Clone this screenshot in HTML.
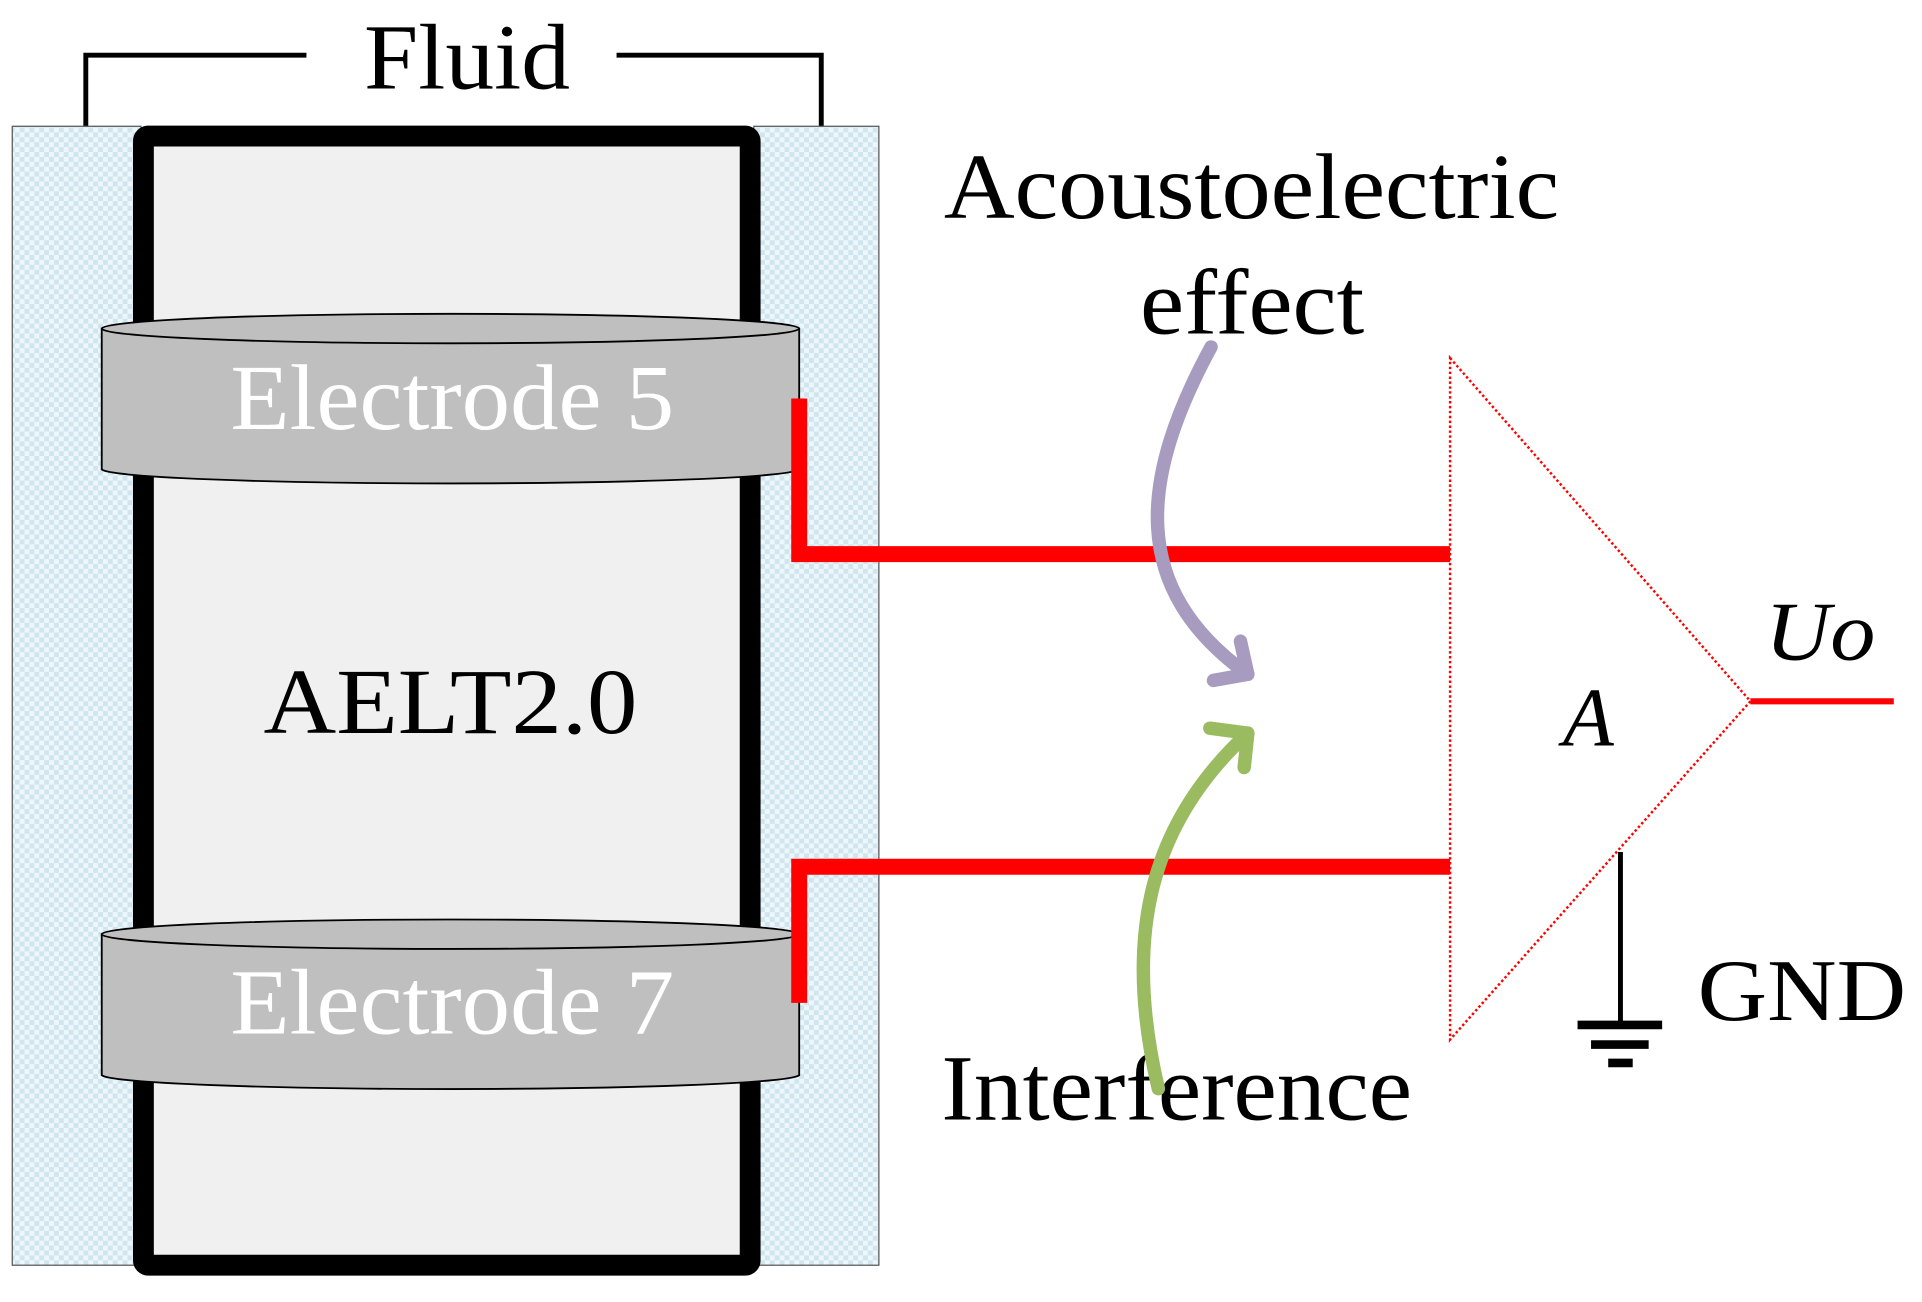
<!DOCTYPE html>
<html><head><meta charset="utf-8"><style>
html,body{margin:0;padding:0;background:#fff;}
svg{display:block;}
text{font-family:"Liberation Serif",serif;}
</style></head><body>
<svg width="1922" height="1302" viewBox="0 0 1568 1062" preserveAspectRatio="none" xmlns="http://www.w3.org/2000/svg">
<defs>
<pattern id="chk" width="8" height="8" patternUnits="userSpaceOnUse">
<rect width="8" height="8" fill="#eef6fa"/>
<rect width="4" height="4" fill="#cfe6f0"/>
<rect x="4" y="4" width="4" height="4" fill="#cfe6f0"/>
</pattern>
</defs>
<polyline points="70,103 70,45 250,45" fill="none" stroke="#000" stroke-width="4"/>
<polyline points="503,45 670,45 670,103" fill="none" stroke="#000" stroke-width="4"/>
<text x="297" y="72" font-size="76" textLength="168" lengthAdjust="spacingAndGlyphs">Fluid</text>
<rect x="10" y="103" width="105" height="929" fill="url(#chk)" stroke="#555" stroke-width="1"/>
<rect x="615" y="103" width="102" height="929" fill="url(#chk)" stroke="#555" stroke-width="1"/>
<rect x="117" y="111" width="495" height="921" rx="4" fill="#f0f0f0" stroke="#000" stroke-width="17"/>
<text x="215" y="598" font-size="76" textLength="305" lengthAdjust="spacingAndGlyphs">AELT2.0</text>
<path d="M83,268 L83,383 A285,12 0 0 0 652,383 L652,268 Z" fill="#bfbfbf" stroke="#000" stroke-width="1.5"/>
<ellipse cx="367.5" cy="268" rx="284.5" ry="12" fill="#bfbfbf" stroke="#000" stroke-width="1.5"/>
<text x="188" y="350" font-size="76" fill="#fff" textLength="362" lengthAdjust="spacingAndGlyphs">Electrode 5</text>
<path d="M83,762 L83,877 A285,12 0 0 0 652,877 L652,762 Z" fill="#bfbfbf" stroke="#000" stroke-width="1.5"/>
<ellipse cx="367.5" cy="762" rx="284.5" ry="12" fill="#bfbfbf" stroke="#000" stroke-width="1.5"/>
<text x="188" y="843" font-size="76" fill="#fff" textLength="362" lengthAdjust="spacingAndGlyphs">Electrode 7</text>
<polyline points="652,325 652,452 1183,452" fill="none" stroke="#f00" stroke-width="13"/>
<polyline points="652,818 652,707 1183,707" fill="none" stroke="#f00" stroke-width="13"/>
<polygon points="1183,292 1428,572 1183,848" fill="none" stroke="#f00" stroke-width="2" stroke-dasharray="2,2"/>
<line x1="1428" y1="572" x2="1545" y2="572" stroke="#f00" stroke-width="5"/>
<text x="1440" y="538" font-size="68" font-style="italic" textLength="90" lengthAdjust="spacingAndGlyphs">Uo</text>
<text x="1275" y="608" font-size="68" font-style="italic">A</text>
<line x1="1322" y1="695" x2="1322" y2="835" stroke="#000" stroke-width="4"/>
<line x1="1287" y1="836" x2="1356" y2="836" stroke="#000" stroke-width="7"/>
<line x1="1298" y1="852" x2="1345" y2="852" stroke="#000" stroke-width="7"/>
<line x1="1312" y1="867" x2="1332" y2="867" stroke="#000" stroke-width="7"/>
<text x="1385" y="832" font-size="72" textLength="170" lengthAdjust="spacingAndGlyphs">GND</text>
<text x="770" y="178" font-size="76" textLength="502" lengthAdjust="spacingAndGlyphs">Acoustoelectric</text>
<text x="930" y="272" font-size="76" textLength="183" lengthAdjust="spacingAndGlyphs">effect</text>
<text x="768" y="913" font-size="76" textLength="384" lengthAdjust="spacingAndGlyphs">Interference</text>
<path d="M988,283 C930,390 920,480 1018,550" fill="none" stroke="#a89bc0" stroke-width="11" stroke-linecap="round"/>
<polyline points="1012,523 1018,550 990,555" fill="none" stroke="#a89bc0" stroke-width="11" stroke-linecap="round" stroke-linejoin="round"/>
<path d="M945,888 C915,760 940,670 1018,598" fill="none" stroke="#9bbb61" stroke-width="11" stroke-linecap="round"/>
<polyline points="987,594 1018,598 1015,626" fill="none" stroke="#9bbb61" stroke-width="11" stroke-linecap="round" stroke-linejoin="round"/>
</svg>
</body></html>
